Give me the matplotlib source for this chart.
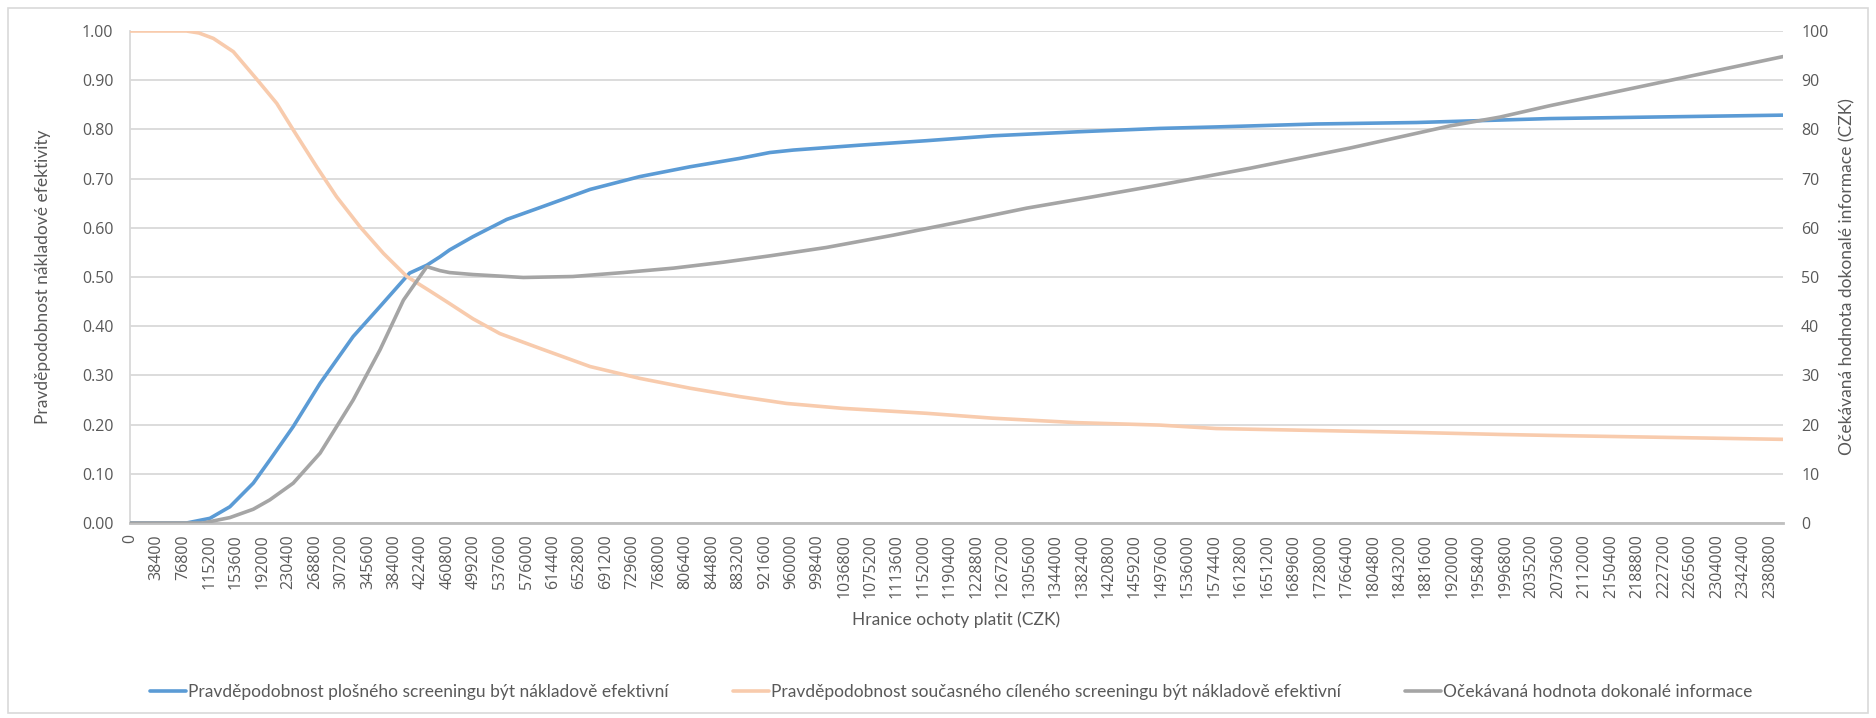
import numpy as np
import matplotlib
matplotlib.use("Agg")
import matplotlib.pyplot as plt
from matplotlib.patches import Rectangle

# hranice ochoty platit (CZK) a odečtené hodnoty jednotlivých řad
plosny_x = [0, 82000, 116000, 145000, 179000, 203000, 237000, 276000, 324000,
            363000, 406000, 431000, 450000, 464000, 498000, 547000, 595000,
            668000, 740000, 813000, 885000, 929000, 963000, 1060000, 1156000,
            1253000, 1374000, 1495000, 1577000, 1722000, 1868000, 1989000,
            2061000, 2400000]
plosny_y = [0.0, 0.0, 0.0095, 0.033, 0.081, 0.128, 0.196, 0.284, 0.379,
            0.440, 0.508, 0.524, 0.541, 0.555, 0.582, 0.617, 0.641,
            0.678, 0.704, 0.724, 0.741, 0.753, 0.758, 0.768, 0.777,
            0.787, 0.795, 0.802, 0.805, 0.811, 0.814, 0.819,
            0.822, 0.829]

cileny_x = [0, 82000, 100000, 121000, 150000, 184000, 213000, 237000, 271000,
            300000, 334000, 368000, 402000, 435000, 464000, 498000,
            537000, 595000, 668000, 740000, 813000, 885000, 929000, 953000,
            1035000, 1156000, 1253000, 1374000, 1495000, 1577000, 1722000,
            1868000, 1989000, 2061000, 2400000]
cileny_y = [1.0, 1.0, 0.996, 0.985, 0.958, 0.902, 0.853, 0.799, 0.724,
            0.663, 0.602, 0.548, 0.501, 0.472, 0.446, 0.415,
            0.385, 0.355, 0.318, 0.294, 0.274, 0.257, 0.248, 0.243,
            0.233, 0.223, 0.213, 0.204, 0.199, 0.192, 0.188,
            0.184, 0.180, 0.178, 0.170]

evpi_x = [0, 106000, 145000, 179000, 203000, 237000, 276000, 324000, 363000,
          397000, 431000, 450000, 464000, 498000, 571000, 643000, 716000,
          789000, 861000, 929000, 1011000, 1108000, 1205000, 1302000, 1398000,
          1495000, 1626000, 1771000, 1916000, 1989000, 2061000, 2400000]
evpi_y = [0.0, 0.0, 1.1, 2.8, 4.7, 8.1, 14.2, 25.0, 35.2,
          45.3, 52.1, 51.3, 50.9, 50.5, 49.9, 50.1, 50.9,
          51.8, 53.0, 54.3, 56.0, 58.5, 61.2, 64.0, 66.3,
          68.7, 72.1, 76.2, 80.7, 82.5, 84.8, 94.8]

x_ticks = list(range(0, 2400000, 38400))

label_plosny = "Pravděpodobnost plošného screeningu být nákladově efektivní"
label_cileny = "Pravděpodobnost současného cíleného screeningu být nákladově efektivní"
label_evpi = "Očekávaná hodnota dokonalé informace"

tick_font = ["Open Sans", "DejaVu Sans"]
title_font = ["Lato", "DejaVu Sans"]
text_col = "#595959"
grid_col = "#d9d9d9"

fig = plt.figure(figsize=(18.76, 7.18), dpi=100)
ax = fig.add_axes([130 / 1876, 1 - 523 / 718, (1783 - 130) / 1876, (523 - 31) / 718])
ax2 = ax.twinx()

l1, = ax.plot(plosny_x, plosny_y, color="#5B9BD5", lw=2.6, solid_capstyle="round", zorder=3)
l2, = ax.plot(cileny_x, cileny_y, color="#F8CBAD", lw=2.6, solid_capstyle="round", zorder=3)
l3, = ax2.plot(evpi_x, evpi_y, color="#A5A5A5", lw=2.6, solid_capstyle="round", zorder=3)

ax.set_xlim(0, 2400000)
ax.set_ylim(0, 1.0)
ax2.set_ylim(0, 100)

ax.set_yticks(np.arange(0, 1.01, 0.1))
ax.set_yticklabels([f"{v:.2f}" for v in np.arange(0, 1.01, 0.1)])
ax2.set_yticks(range(0, 101, 10))
ax.set_xticks(x_ticks)
ax.set_xticklabels([str(v) for v in x_ticks], rotation=90)

ax.grid(axis="y", color=grid_col, lw=1.3)
ax.set_axisbelow(True)

for a in (ax, ax2):
    for s in ("top", "right", "left", "bottom"):
        a.spines[s].set_visible(False)
    a.tick_params(length=0, colors=text_col, labelsize=11.5)
    for lab in a.get_xticklabels() + a.get_yticklabels():
        lab.set_family(tick_font)
ax.spines["left"].set_visible(True)
ax.spines["left"].set_color(grid_col)
ax.spines["left"].set_linewidth(1.3)
ax.spines["bottom"].set_visible(True)
ax.spines["bottom"].set_color("#bfbfbf")
ax.spines["bottom"].set_linewidth(2)
ax.tick_params(axis="y", pad=12)
ax.tick_params(axis="x", pad=8)
ax2.tick_params(axis="y", pad=13)

ax.set_ylabel("Pravděpodobnost nákladové efektivity", family=title_font,
              fontsize=12.5, color=text_col, labelpad=22)
ax2.set_ylabel("Očekávaná hodnota dokonalé informace (CZK)", family=title_font,
               fontsize=12.5, color=text_col, labelpad=8)
ax.set_xlabel("Hranice ochoty platit (CZK)", family=title_font,
              fontsize=12.5, color=text_col, labelpad=10)

fig.legend([l1, l2, l3], [label_plosny, label_cileny, label_evpi],
           loc="center", bbox_to_anchor=(0.507, 1 - 692 / 718), ncol=3,
           frameon=False, prop={"family": title_font, "size": 12.5},
           labelcolor=text_col, handlelength=2.1, handletextpad=0.1,
           columnspacing=3.7)

# rámeček kolem celého grafu
fig.patches.append(Rectangle((8 / 1876, 5 / 718), 1860 / 1876, 705 / 718,
                             transform=fig.transFigure, fill=False,
                             edgecolor="#d9d9d9", lw=1.2))

fig.savefig("out.png", dpi=100, facecolor="white")
